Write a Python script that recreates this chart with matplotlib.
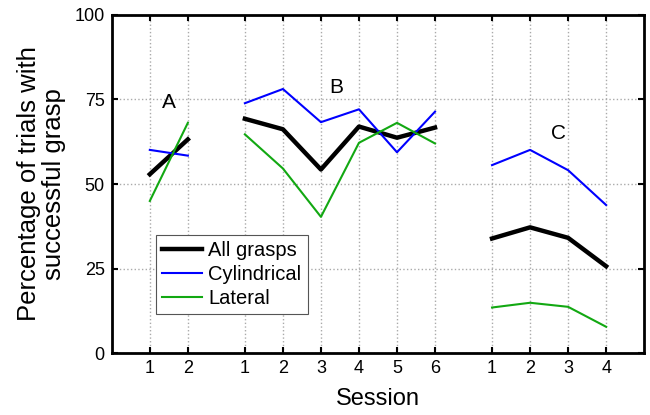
import numpy as np
import matplotlib
matplotlib.use('Agg')
from matplotlib import pyplot as plt

plt.rcParams['font.family'] = ['Liberation Sans', 'DejaVu Sans']

# --- data ---
groups = ['A', 'B', 'C']
sessions = [[1, 2], [1, 2, 3, 4, 5, 6], [1, 2, 3, 4]]
x_pos = [[1, 2], [3.5, 4.5, 5.5, 6.5, 7.5, 8.5], [10, 11, 12, 13]]
all_grasps = [[52.9, 63.2], [69.3, 66.2, 54.3, 67.0, 63.7, 66.7], [33.9, 37.2, 34.1, 25.7]]
cylindrical = [[60.1, 58.4], [73.9, 78.1, 68.3, 72.1, 59.4, 71.4], [55.6, 60.1, 54.1, 43.8]]
lateral = [[45.0, 68.1], [64.7, 54.6, 40.3, 62.2, 68.1, 62.0], [13.5, 14.9, 13.7, 7.8]]
label_xy = [(1.5, 74), (5.9, 78.5), (11.75, 65)]

fig = plt.figure(figsize=(6.5, 4.15), dpi=100)
ax = fig.add_axes([0.172, 0.149, 0.819, 0.815])

for i in range(len(groups)):
    lb = ['All grasps', 'Cylindrical', 'Lateral'] if i == 0 else [None] * 3
    ax.plot(x_pos[i], all_grasps[i], color='black', lw=3.2, label=lb[0], zorder=3)
    ax.plot(x_pos[i], cylindrical[i], color='#0000ff', lw=1.5, label=lb[1], zorder=3)
    ax.plot(x_pos[i], lateral[i], color='#12a812', lw=1.5, label=lb[2], zorder=3)
    ax.text(label_xy[i][0], label_xy[i][1], groups[i], fontsize=15, ha='center', va='center')

xt = [x for g in x_pos for x in g]
xl = [str(s) for g in sessions for s in g]
ax.set_xticks(xt); ax.set_xticklabels(xl)
ax.set_yticks([0, 25, 50, 75, 100])
ax.set_xlim(0, 14); ax.set_ylim(0, 100)
ax.grid(True, color='#aaaaaa', linestyle=':', linewidth=1.0)
ax.tick_params(direction='in', top=True, right=True, labelsize=13, length=4, width=1.5, pad=5)
for s in ax.spines.values():
    s.set_linewidth(2)
ax.set_xlabel('Session', fontsize=17, labelpad=8)
ax.set_ylabel('Percentage of trials with\nsuccessful grasp', fontsize=18.5,
              labelpad=6, linespacing=1.05)

leg = ax.legend(loc='upper left', bbox_to_anchor=(0.083, 0.349), borderaxespad=0,
                fontsize=14.5, fancybox=False, framealpha=1, edgecolor='#555555',
                handlelength=2.0, handletextpad=0.3, borderpad=0.3, labelspacing=0.25)
leg.get_frame().set_linewidth(0.8)

fig.savefig('out.png')
